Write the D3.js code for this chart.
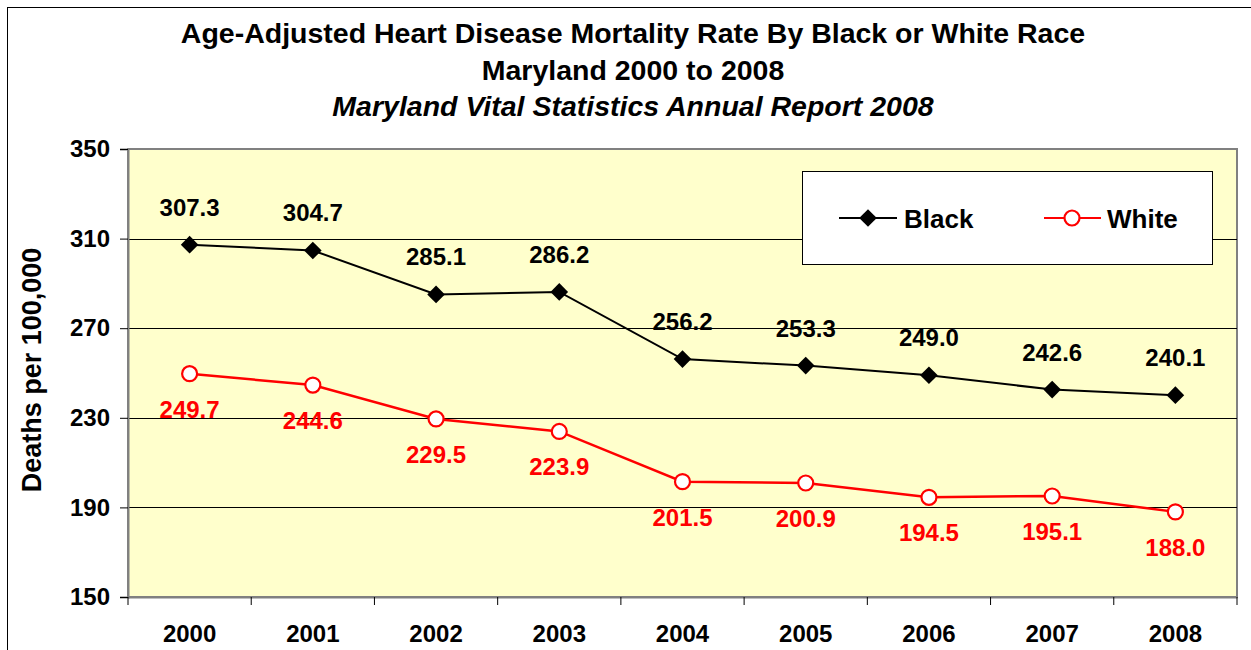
<!DOCTYPE html>
<html><head><meta charset="utf-8">
<script src="https://cdn.jsdelivr.net/npm/d3@7"></script>
<style>body{margin:0;background:#fff}svg{display:block}text{font-family:"Liberation Sans",Arial,sans-serif;font-weight:bold}</style>
</head><body>
<script>
const years = ["2000","2001","2002","2003","2004","2005","2006","2007","2008"];
const blackValues = [307.3, 304.7, 285.1, 286.2, 256.2, 253.3, 249.0, 242.6, 240.1];
const whiteValues = [249.7, 244.6, 229.5, 223.9, 201.5, 200.9, 194.5, 195.1, 188.0];
const yTicks = [150, 190, 230, 270, 310, 350];
const titleLines = ["Age-Adjusted Heart Disease Mortality Rate By Black or White Race", "Maryland 2000 to 2008", "Maryland Vital Statistics Annual Report 2008"];

const W = 1251, H = 650;
const m = {left:128, right:1237, top:149, bottom:597};
const svg = d3.select("body").append("svg").attr("width", W).attr("height", H);

// outer frame
svg.append("rect").attr("x",7.5).attr("y",7.5).attr("width",W+10).attr("height",H+10)
  .attr("fill","#fff").attr("stroke","#000").attr("stroke-width",1);

const x = d3.scaleBand().domain(years).range([m.left, m.right]);
const y = d3.scaleLinear().domain([150, 350]).range([m.bottom, m.top]);

// plot area
svg.append("rect").attr("x",m.left).attr("y",m.top).attr("width",m.right-m.left).attr("height",m.bottom-m.top)
  .attr("fill","#FFFFCC").attr("stroke","#808080").attr("stroke-width",2);

// gridlines
svg.append("g").selectAll("line").data(yTicks.filter(t => t>150 && t<350)).join("line")
  .attr("x1",m.left).attr("x2",m.right).attr("y1",d=>Math.round(y(d))+0.5).attr("y2",d=>Math.round(y(d))+0.5)
  .attr("stroke","#000").attr("stroke-width",1);

// y axis
const yAxis = svg.append("g").attr("transform",`translate(${m.left},0)`)
  .call(d3.axisLeft(y).tickValues(yTicks).tickSize(8).tickPadding(10));
yAxis.select(".domain").attr("stroke","#808080").attr("stroke-width",2);
yAxis.selectAll(".tick line").attr("stroke","#000");
yAxis.selectAll("text").attr("font-size",24).attr("fill","#000").attr("font-family","Liberation Sans, Arial").attr("font-weight","bold");

// x axis
const xAxis = svg.append("g").attr("transform",`translate(0,${m.bottom})`)
  .call(d3.axisBottom(x).tickSize(0).tickPadding(28));
xAxis.select(".domain").attr("stroke","#808080").attr("stroke-width",2);
xAxis.selectAll("text").attr("font-size",24).attr("fill","#000").attr("font-family","Liberation Sans, Arial").attr("font-weight","bold");
// boundary ticks
const bounds = years.map(d => x(d)).concat([m.right]);
svg.append("g").selectAll("line").data(bounds).join("line")
  .attr("x1",d=>d).attr("x2",d=>d).attr("y1",m.bottom).attr("y2",m.bottom+8)
  .attr("stroke","#000").attr("stroke-width",1);

const cx = d => x(d) + x.bandwidth()/2;

// lines
const line = d3.line().x((d,i)=>cx(years[i])).y(d=>y(d));
svg.append("path").datum(blackValues).attr("d",line).attr("fill","none").attr("stroke","#000").attr("stroke-width",2);
svg.append("path").datum(whiteValues).attr("d",line).attr("fill","none").attr("stroke","#FF0000").attr("stroke-width",2.5);

// markers
const diamond = d3.symbol().type(d3.symbolSquare).size(155);
svg.append("g").selectAll("path").data(blackValues).join("path")
  .attr("d", diamond())
  .attr("transform",(d,i)=>`translate(${cx(years[i])},${y(d)}) rotate(45)`)
  .attr("fill","#000");
svg.append("g").selectAll("circle").data(whiteValues).join("circle")
  .attr("cx",(d,i)=>cx(years[i])).attr("cy",d=>y(d)).attr("r",7.5)
  .attr("fill","#fff").attr("stroke","#FF0000").attr("stroke-width",2.2);

// data labels
svg.append("g").selectAll("text").data(blackValues).join("text")
  .attr("x",(d,i)=>cx(years[i])).attr("y",d=>y(d)-29)
  .attr("text-anchor","middle").attr("font-size",24).attr("fill","#000")
  .text(d=>d.toFixed(1));
svg.append("g").selectAll("text").data(whiteValues).join("text")
  .attr("x",(d,i)=>cx(years[i])).attr("y",d=>y(d)+44)
  .attr("text-anchor","middle").attr("font-size",24).attr("fill","#FF0000")
  .text(d=>d.toFixed(1));

// titles
svg.append("text").attr("x",633).attr("y",43).attr("text-anchor","middle").attr("font-size",28.5).text(titleLines[0]);
svg.append("text").attr("x",633).attr("y",80).attr("text-anchor","middle").attr("font-size",28.5).text(titleLines[1]);
svg.append("text").attr("x",633).attr("y",116).attr("text-anchor","middle").attr("font-size",28.5).attr("font-style","italic").text(titleLines[2]);

// y label
svg.append("text").attr("transform","translate(41,370) rotate(-90)").attr("text-anchor","middle")
  .attr("font-size",27).text("Deaths per 100,000");

// legend
const lg = svg.append("g");
lg.append("rect").attr("x",802.5).attr("y",171.5).attr("width",410).attr("height",93)
  .attr("fill","#fff").attr("stroke","#000").attr("stroke-width",1);
const ly = 218;
lg.append("line").attr("x1",839).attr("x2",897).attr("y1",ly).attr("y2",ly).attr("stroke","#000").attr("stroke-width",2);
lg.append("path").attr("d",diamond()).attr("transform",`translate(868,${ly}) rotate(45)`).attr("fill","#000");
lg.append("text").attr("x",904).attr("y",ly+10).attr("font-size",26).text("Black");
lg.append("line").attr("x1",1044).attr("x2",1101).attr("y1",ly).attr("y2",ly).attr("stroke","#FF0000").attr("stroke-width",2);
lg.append("circle").attr("cx",1072).attr("cy",ly).attr("r",7.5).attr("fill","#fff").attr("stroke","#FF0000").attr("stroke-width",2.2);
lg.append("text").attr("x",1107).attr("y",ly+10).attr("font-size",26).text("White");
</script>
</body></html>
